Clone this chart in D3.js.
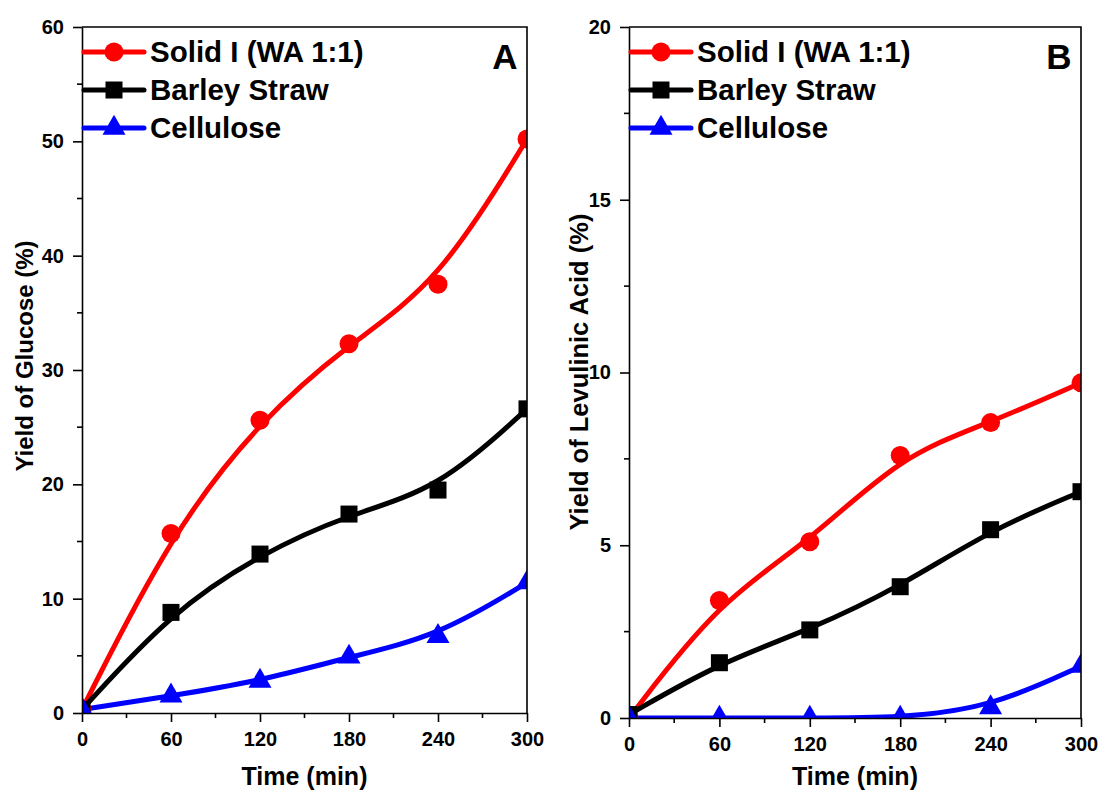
<!DOCTYPE html>
<html><head><meta charset="utf-8">
<script src="https://cdn.jsdelivr.net/npm/d3@7"></script>
<style>
html,body{margin:0;padding:0;background:#fff;}
text{font-family:"Liberation Sans",Arial,sans-serif;font-weight:bold;}
</style></head>
<body>
<svg id="chart" width="1099" height="792"></svg>
<script>
const times = [0, 60, 120, 180, 240, 300];
const xTicks = [0, 60, 120, 180, 240, 300];
const seriesNames = ["Solid I (WA 1:1)", "Barley Straw", "Cellulose"];
const seriesColors = ["#ff0000", "#000000", "#0000ff"];
const seriesSymbols = ["circle", "square", "triangle"];

// Panel A: Yield of Glucose (%)
const glucoseSolid = [0.3, 15.7, 25.6, 32.3, 37.5, 50.2];
const glucoseBarley = [0.3, 8.8, 13.9, 17.4, 19.5, 26.6];
const glucoseCellulose = [0.3, 1.5, 2.8, 4.9, 6.7, 11.4];
const glucoseTicks = [0, 10, 20, 30, 40, 50, 60];

// Panel B: Yield of Levulinic Acid (%)
const laSolid = [0.0, 3.4, 5.1, 7.6, 8.55, 9.7];
const laBarley = [0.1, 1.6, 2.55, 3.8, 5.45, 6.55];
const laCellulose = [0.0, 0.0, 0.0, 0.0, 0.3, 1.5];
const laTicks = [0, 5, 10, 15, 20];

const svg = d3.select("#chart");

function drawPanel(cfg) {
  const {id, left, right, top, bottom, yMax, yTicks, yMinorStep, series, yTitle, letter, yTitleX, yTitleY, yTitleSize} = cfg;
  const x = d3.scaleLinear().domain([0, 300]).range([left, right]);
  const y = d3.scaleLinear().domain([0, yMax]).range([bottom, top]);
  const g = svg.append("g");

  g.append("clipPath").attr("id", "clip" + id)
    .append("rect").attr("x", left).attr("y", top).attr("width", right - left).attr("height", bottom - top);

  const plot = g.append("g").attr("clip-path", `url(#clip${id})`);
  const line = d3.line().x((d, i) => x(times[i])).y(d => y(d)).curve(d3.curveBasis);

  series.forEach((vals, si) => {
    plot.append("path").datum(vals)
      .attr("d", line).attr("fill", "none")
      .attr("stroke", seriesColors[si]).attr("stroke-width", 5)
      .attr("stroke-linejoin", "round").attr("stroke-linecap", "round");
  });
  series.forEach((vals, si) => {
    vals.forEach((v, i) => {
      drawMarker(plot, seriesSymbols[si], x(times[i]), y(v), seriesColors[si]);
    });
  });

  // axes
  const axStyle = sel => {
    sel.select(".domain").attr("stroke", "#000").attr("stroke-width", 1.6);
    sel.selectAll(".tick line").attr("stroke", "#000").attr("stroke-width", 1.6);
    sel.selectAll("text").attr("fill", "#000").style("font-size", "20px").style("font-weight", "bold")
      .style("font-family", '"Liberation Sans",Arial,sans-serif');
  };
  const xAxis = g.append("g").attr("transform", `translate(0,${bottom})`)
    .call(d3.axisBottom(x).tickValues(xTicks).tickSize(9).tickPadding(10).tickSizeOuter(0));
  axStyle(xAxis);
  const yAxis = g.append("g").attr("transform", `translate(${left},0)`)
    .call(d3.axisLeft(y).tickValues(yTicks).tickSize(9).tickPadding(9).tickSizeOuter(0));
  axStyle(yAxis);

  // minor ticks
  for (let t = 30; t < 300; t += 60) {
    g.append("line").attr("x1", x(t)).attr("x2", x(t)).attr("y1", bottom).attr("y2", bottom + 5)
      .attr("stroke", "#000").attr("stroke-width", 1.6);
  }
  for (let t = yMinorStep; t < yMax; t += yMinorStep * 2) {
    g.append("line").attr("x1", left).attr("x2", left - 5).attr("y1", y(t)).attr("y2", y(t))
      .attr("stroke", "#000").attr("stroke-width", 1.6);
  }
  // box top & right
  g.append("path").attr("d", `M${left},${top}H${right}V${bottom}`)
    .attr("fill", "none").attr("stroke", "#000").attr("stroke-width", 1.6);

  // titles
  g.append("text").attr("x", (left + right) / 2).attr("y", 785).attr("text-anchor", "middle")
    .style("font-size", "25px").text("Time (min)");
  g.append("text").attr("transform", `translate(${yTitleX},${yTitleY}) rotate(-90)`)
    .attr("text-anchor", "middle").style("font-size", yTitleSize + "px").text(yTitle);
  g.append("text").attr("x", right - 22).attr("y", 69).attr("text-anchor", "middle")
    .style("font-size", "35px").text(letter);

  // legend
  const ly = [52, 90, 128];
  seriesNames.forEach((nm, si) => {
    g.append("line").attr("x1", left + 2).attr("x2", left + 62).attr("y1", ly[si]).attr("y2", ly[si])
      .attr("stroke", seriesColors[si]).attr("stroke-width", 5).attr("stroke-linecap", "round");
    drawMarker(g, seriesSymbols[si], left + 32, ly[si], seriesColors[si]);
    g.append("text").attr("x", left + 68).attr("y", ly[si] + 10).style("font-size", "29.5px").text(nm);
  });
}

function drawMarker(parent, sym, cx, cy, color) {
  if (sym === "circle") {
    parent.append("circle").attr("cx", cx).attr("cy", cy).attr("r", 9.5).attr("fill", color);
  } else if (sym === "square") {
    parent.append("rect").attr("x", cx - 8.5).attr("y", cy - 8.5).attr("width", 17).attr("height", 17).attr("fill", color);
  } else {
    const s = 23;
    parent.append("path").attr("transform", `translate(${cx},${cy})`)
      .attr("d", d3.symbol().type(d3.symbolTriangle).size(s * s * Math.sqrt(3) / 4)()).attr("fill", color);
  }
}

drawPanel({id: "A", left: 82, right: 527, top: 27, bottom: 713, yMax: 60, yTicks: glucoseTicks, yMinorStep: 5,
  series: [glucoseSolid, glucoseBarley, glucoseCellulose], yTitle: "Yield of Glucose (%)", letter: "A",
  yTitleX: 33, yTitleY: 356, yTitleSize: 24});
drawPanel({id: "B", left: 629, right: 1081, top: 27, bottom: 718, yMax: 20, yTicks: laTicks, yMinorStep: 2.5,
  series: [laSolid, laBarley, laCellulose], yTitle: "Yield of Levulinic Acid (%)", letter: "B",
  yTitleX: 588, yTitleY: 372, yTitleSize: 25.5});
</script>
</body></html>
